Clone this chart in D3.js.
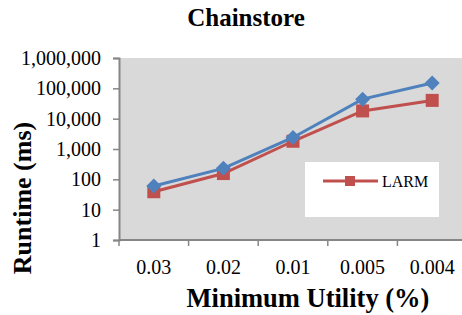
<!DOCTYPE html>
<html>
<head>
<meta charset="utf-8">
<script src="https://cdn.jsdelivr.net/npm/d3@7"></script>
<style>
  body { margin: 0; background: #fff; }
  svg text { font-family: "Liberation Serif", "Times New Roman", serif; }
</style>
</head>
<body>
<svg id="chart" width="462" height="315"></svg>
<script>
// data
var categories = ["0.03", "0.02", "0.01", "0.005", "0.004"];
var blueValues = [60, 230, 2400, 44000, 150000];
var larmValues = [39, 155, 1800, 18000, 40000];
var yTicks = [1, 10, 100, 1000, 10000, 100000, 1000000];

var svg = d3.select("#chart");

var plot = { left: 119, top: 58, right: 467, bottom: 240 };

var x = d3.scaleBand()
    .domain(categories)
    .range([plot.left, plot.right]);

var y = d3.scaleLog()
    .domain([1, 1000000])
    .range([plot.bottom, plot.top]);

// plot background
svg.append("rect")
    .attr("x", plot.left)
    .attr("y", plot.top)
    .attr("width", plot.right - plot.left)
    .attr("height", plot.bottom - plot.top)
    .attr("fill", "#d9d9d9");

// y axis
var yAxis = svg.append("g")
    .attr("transform", "translate(" + plot.left + ",0)")
    .call(d3.axisLeft(y).tickValues(yTicks).tickSize(6).tickPadding(12)
        .tickFormat(d3.format(",")));
yAxis.select(".domain").attr("stroke", "#868686").attr("stroke-width", 2);
yAxis.selectAll(".tick line").attr("stroke", "#868686").attr("stroke-width", 1.5);
yAxis.selectAll(".tick text")
    .attr("font-size", 20)
    .attr("fill", "#000")
    .style("font-family", "Liberation Serif");

// x axis, ticks on band boundaries
var xAxisG = svg.append("g")
    .attr("transform", "translate(0," + plot.bottom + ")");
xAxisG.append("line")
    .attr("x1", plot.left).attr("x2", plot.right)
    .attr("stroke", "#868686").attr("stroke-width", 2);
var bounds = categories.map(function (c) { return x(c); }).concat([plot.right]);
xAxisG.selectAll(".bt")
    .data(bounds)
    .enter().append("line")
    .attr("x1", function (d) { return d; })
    .attr("x2", function (d) { return d; })
    .attr("y1", 0).attr("y2", 6)
    .attr("stroke", "#868686").attr("stroke-width", 1.5);
xAxisG.selectAll(".lbl")
    .data(categories)
    .enter().append("text")
    .attr("x", function (d) { return x(d) + x.bandwidth() / 2; })
    .attr("y", 34)
    .attr("text-anchor", "middle")
    .attr("font-size", 20)
    .text(function (d) { return d; });

var cx = function (d, i) { return x(categories[i]) + x.bandwidth() / 2; };

var line = d3.line()
    .x(function (d, i) { return cx(d, i); })
    .y(function (d) { return y(d); });

// LARM series (red, squares)
svg.append("path")
    .datum(larmValues)
    .attr("d", line)
    .attr("fill", "none")
    .attr("stroke", "#c0504d")
    .attr("stroke-width", 3);
svg.selectAll(".sq")
    .data(larmValues)
    .enter().append("rect")
    .attr("x", function (d, i) { return cx(d, i) - 6.5; })
    .attr("y", function (d) { return y(d) - 6.5; })
    .attr("width", 13).attr("height", 13)
    .attr("fill", "#c0504d");

// second series (blue, diamonds)
svg.append("path")
    .datum(blueValues)
    .attr("d", line)
    .attr("fill", "none")
    .attr("stroke", "#4f81bd")
    .attr("stroke-width", 3);
svg.selectAll(".dm")
    .data(blueValues)
    .enter().append("path")
    .attr("transform", function (d, i) { return "translate(" + cx(d, i) + "," + y(d) + ")"; })
    .attr("d", "M0,-7.5L7.5,0L0,7.5L-7.5,0Z")
    .attr("fill", "#4f81bd");

// legend
var leg = svg.append("g");
leg.append("rect")
    .attr("x", 305).attr("y", 162)
    .attr("width", 134).attr("height", 55)
    .attr("fill", "#fff");
leg.append("line")
    .attr("x1", 323).attr("x2", 378)
    .attr("y1", 181).attr("y2", 181)
    .attr("stroke", "#c0504d").attr("stroke-width", 3);
leg.append("rect")
    .attr("x", 345).attr("y", 176)
    .attr("width", 10).attr("height", 10)
    .attr("fill", "#c0504d");
leg.append("text")
    .attr("x", 382).attr("y", 187)
    .attr("font-size", 16)
    .text("LARM");

// titles
svg.append("text")
    .attr("x", 246).attr("y", 26)
    .attr("text-anchor", "middle")
    .attr("font-size", 25)
    .attr("font-weight", "bold")
    .text("Chainstore");

svg.append("text")
    .attr("transform", "translate(31,198) rotate(-90)")
    .attr("text-anchor", "middle")
    .attr("font-size", 26)
    .attr("font-weight", "bold")
    .text("Runtime (ms)");

svg.append("text")
    .attr("x", 308).attr("y", 307)
    .attr("text-anchor", "middle")
    .attr("font-size", 26.5)
    .attr("font-weight", "bold")
    .text("Minimum Utility (%)");
</script>
</body>
</html>
